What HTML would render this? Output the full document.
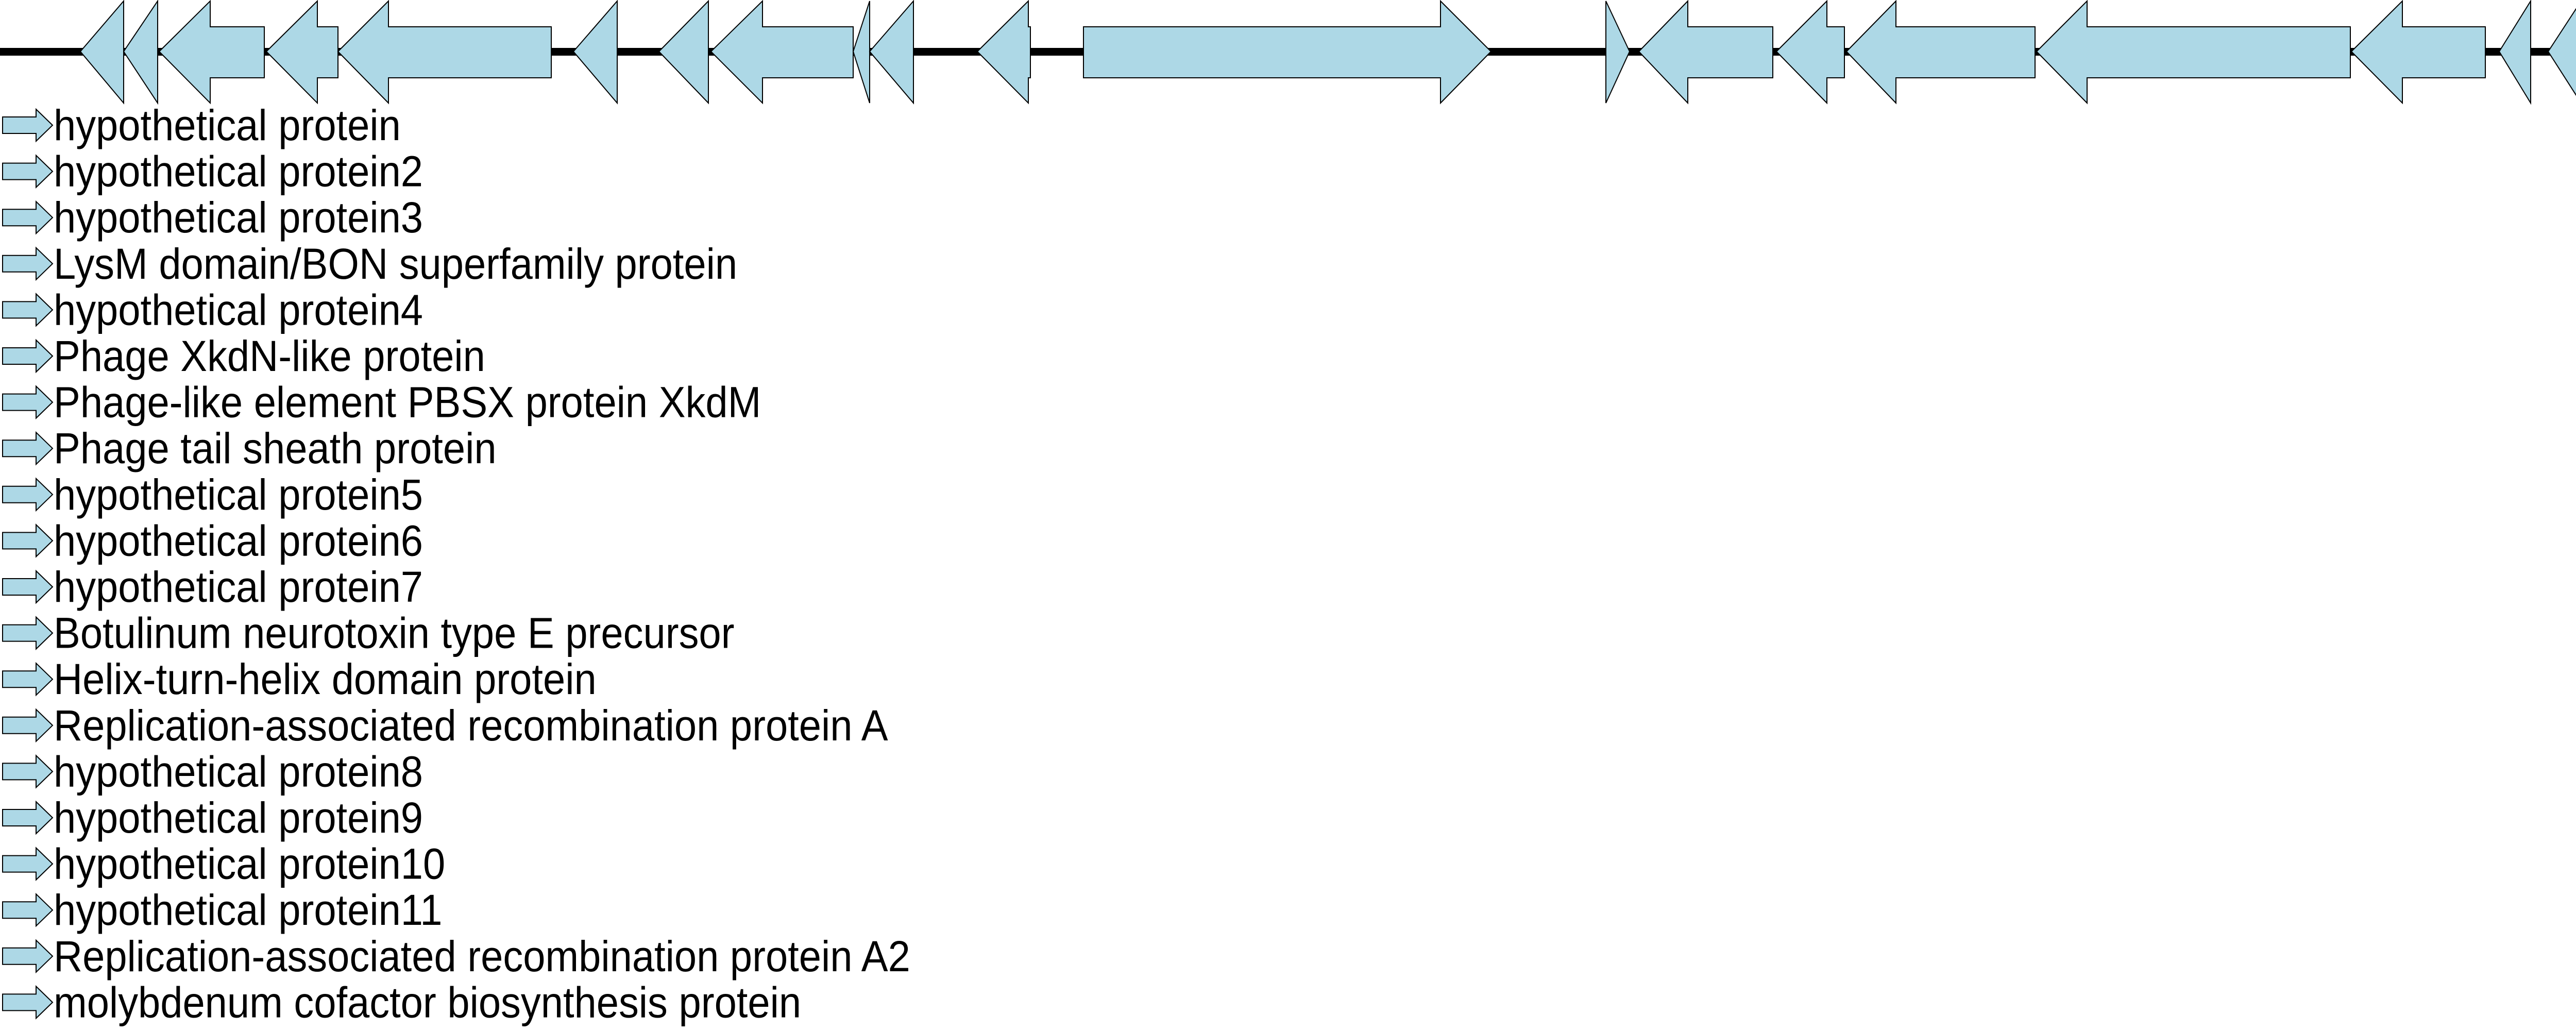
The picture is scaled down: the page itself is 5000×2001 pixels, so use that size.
<!DOCTYPE html>
<html><head><meta charset="utf-8"><style>
html,body{margin:0;padding:0;background:#fff;}
svg{display:block;}
text{font-family:"Liberation Sans",sans-serif;font-size:84px;fill:#000;}
</style></head><body>
<svg width="5000" height="2001" viewBox="0 0 5000 2001" xmlns="http://www.w3.org/2000/svg">
<rect x="0" y="93" width="5000" height="15" fill="#000"/>
<g fill="#add8e6" stroke="#000" stroke-width="2">
<polygon points="156,100 240,2 240,200"/>
<polygon points="240,100 306,2 306,200"/>
<polygon points="309,100 408,2 408,52 513,52 513,151 408,151 408,200"/>
<polygon points="517,100 616,2 616,52 656,52 656,151 616,151 616,200"/>
<polygon points="656,100 754,2 754,52 1070,52 1070,151 754,151 754,200"/>
<polygon points="1113,100 1198,2 1198,200"/>
<polygon points="1279,100 1375,2 1375,200"/>
<polygon points="1380,100 1480,2 1480,52 1656,52 1656,151 1480,151 1480,200"/>
<polygon points="1656,100 1688,2 1688,200"/>
<polygon points="1688,100 1773,2 1773,200"/>
<polygon points="1897,100 1996,2 1996,52 2000,52 2000,151 1996,151 1996,200"/>
<polygon points="2103,52 2796,52 2796,2 2894,100 2796,200 2796,151 2103,151"/>
<polygon points="3117,2 3163,100 3117,200"/>
<polygon points="3181,100 3276,2 3276,52 3441,52 3441,151 3276,151 3276,200"/>
<polygon points="3448,100 3546,2 3546,52 3580,52 3580,151 3546,151 3546,200"/>
<polygon points="3584,100 3680,2 3680,52 3950,52 3950,151 3680,151 3680,200"/>
<polygon points="3953,100 4051,2 4051,52 4562,52 4562,151 4051,151 4051,200"/>
<polygon points="4564,100 4663,2 4663,52 4824,52 4824,151 4663,151 4663,200"/>
<polygon points="4851,100 4912,2 4912,200"/>
<polygon points="4946,100 5010,2 5010,200"/>
</g>
<g fill="#add8e6" stroke="#000" stroke-width="2">
<polygon transform="translate(0,212)" points="5,15 70,15 70,0 102,31 70,62 70,47 5,47"/>
<polygon transform="translate(0,301.6)" points="5,15 70,15 70,0 102,31 70,62 70,47 5,47"/>
<polygon transform="translate(0,391.2)" points="5,15 70,15 70,0 102,31 70,62 70,47 5,47"/>
<polygon transform="translate(0,480.8)" points="5,15 70,15 70,0 102,31 70,62 70,47 5,47"/>
<polygon transform="translate(0,570.4)" points="5,15 70,15 70,0 102,31 70,62 70,47 5,47"/>
<polygon transform="translate(0,660)" points="5,15 70,15 70,0 102,31 70,62 70,47 5,47"/>
<polygon transform="translate(0,749.6)" points="5,15 70,15 70,0 102,31 70,62 70,47 5,47"/>
<polygon transform="translate(0,839.2)" points="5,15 70,15 70,0 102,31 70,62 70,47 5,47"/>
<polygon transform="translate(0,928.8)" points="5,15 70,15 70,0 102,31 70,62 70,47 5,47"/>
<polygon transform="translate(0,1018.4)" points="5,15 70,15 70,0 102,31 70,62 70,47 5,47"/>
<polygon transform="translate(0,1108)" points="5,15 70,15 70,0 102,31 70,62 70,47 5,47"/>
<polygon transform="translate(0,1197.6)" points="5,15 70,15 70,0 102,31 70,62 70,47 5,47"/>
<polygon transform="translate(0,1287.2)" points="5,15 70,15 70,0 102,31 70,62 70,47 5,47"/>
<polygon transform="translate(0,1376.8)" points="5,15 70,15 70,0 102,31 70,62 70,47 5,47"/>
<polygon transform="translate(0,1466.4)" points="5,15 70,15 70,0 102,31 70,62 70,47 5,47"/>
<polygon transform="translate(0,1556)" points="5,15 70,15 70,0 102,31 70,62 70,47 5,47"/>
<polygon transform="translate(0,1645.6)" points="5,15 70,15 70,0 102,31 70,62 70,47 5,47"/>
<polygon transform="translate(0,1735.2)" points="5,15 70,15 70,0 102,31 70,62 70,47 5,47"/>
<polygon transform="translate(0,1824.8)" points="5,15 70,15 70,0 102,31 70,62 70,47 5,47"/>
<polygon transform="translate(0,1914.4)" points="5,15 70,15 70,0 102,31 70,62 70,47 5,47"/>
</g>
<g transform="translate(104,0) scale(0.925,1)">
<text x="0" y="272">hypothetical protein</text>
<text x="0" y="361.6">hypothetical protein2</text>
<text x="0" y="451.2">hypothetical protein3</text>
<text x="0" y="540.8">LysM domain/BON superfamily protein</text>
<text x="0" y="630.4">hypothetical protein4</text>
<text x="0" y="720">Phage XkdN-like protein</text>
<text x="0" y="809.6">Phage-like element PBSX protein XkdM</text>
<text x="0" y="899.2">Phage tail sheath protein</text>
<text x="0" y="988.8">hypothetical protein5</text>
<text x="0" y="1078.4">hypothetical protein6</text>
<text x="0" y="1168">hypothetical protein7</text>
<text x="0" y="1257.6">Botulinum neurotoxin type E precursor</text>
<text x="0" y="1347.2">Helix-turn-helix domain protein</text>
<text x="0" y="1436.8">Replication-associated recombination protein A</text>
<text x="0" y="1526.4">hypothetical protein8</text>
<text x="0" y="1616">hypothetical protein9</text>
<text x="0" y="1705.6">hypothetical protein10</text>
<text x="0" y="1795.2">hypothetical protein11</text>
<text x="0" y="1884.8">Replication-associated recombination protein A2</text>
<text x="0" y="1974.4">molybdenum cofactor biosynthesis protein</text>
</g>
</svg>
</body></html>
